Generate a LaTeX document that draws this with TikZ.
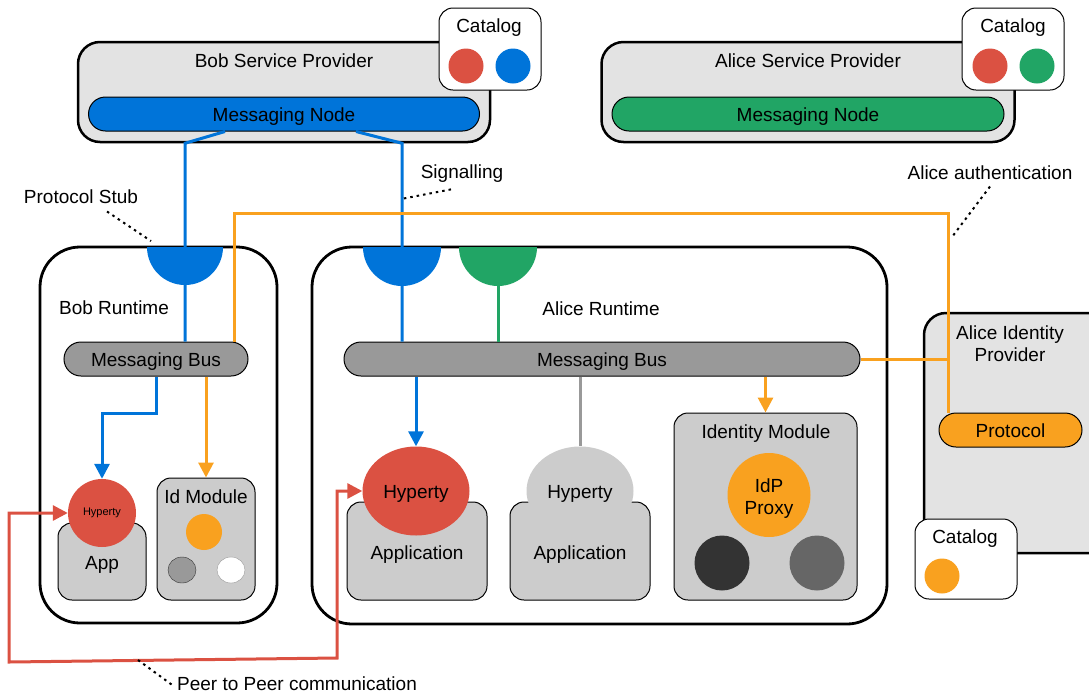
\documentclass[tikz,border=0pt]{standalone}
\usepackage{fontspec}
\setmainfont{Liberation Sans}
\usepackage{tikz}
\usetikzlibrary{arrows.meta}
\usetikzlibrary{shapes.geometric}
\definecolor{sigblue}{HTML}{0074D9}
\definecolor{siggreen}{HTML}{21A565}
\definecolor{hypred}{HTML}{DB5142}
\definecolor{idorange}{HTML}{F9A11F}
\definecolor{spgray}{HTML}{E3E3E3}
\definecolor{boxgray}{HTML}{CCCCCC}
\definecolor{busgray}{HTML}{999999}
\definecolor{darkdot}{HTML}{333333}
\definecolor{middot}{HTML}{666666}

\begin{document}
\begin{tikzpicture}[x=1pt,y=-1pt,font=\fontsize{19}{22}\selectfont,
    provider/.style={draw,line width=2.5pt,rounded corners=22pt,fill=spgray,inner sep=0},
    runtime/.style={draw,line width=2.8pt,rounded corners=40pt,inner sep=0},
    catalog/.style={draw,line width=1pt,rounded corners=14pt,fill=white,inner sep=0},
    mnode/.style={draw,line width=1pt,rounded corners=17pt,minimum height=34,inner sep=0,text height=16pt,text depth=2pt},
    appbox/.style={draw,line width=1pt,rounded corners=14pt,fill=boxgray,inner sep=0},
    dot/.style={circle,minimum size=35,inner sep=0},
    hyp/.style={ellipse,minimum width=107,minimum height=89,inner sep=0,text height=16pt,text depth=2pt},
    sig/.style={line width=3pt,sigblue},
    idline/.style={line width=3pt,idorange},
    callout/.style={line width=2pt,dash pattern=on 2.5pt off 4pt},
    >={Triangle[width=15pt,length=15pt]}]
    \useasboundingbox (0,0) rectangle (1089,694);
    % service providers
    \node[provider,minimum width=412,minimum height=100] (bobsp) at (284,92) {};
    \node (bobsptext) at (284,61) {Bob Service Provider};
    \node[mnode,fill=sigblue,minimum width=391] (bobmn) at (284,114) {Messaging Node};
    \node[catalog,minimum width=102,minimum height=82] (bobcat) at (490,49) {};
    \node (bobcattext) at (489,28) {Catalog};
    \node[dot,fill=hypred] (bobcat1) at (466,66) {};
    \node[dot,fill=sigblue] (bobcat2) at (513,66) {};
    \node[provider,minimum width=413,minimum height=100] (alicesp) at (808,92) {};
    \node (alicesptext) at (808,61) {Alice Service Provider};
    \node[mnode,fill=siggreen,minimum width=392] (alicemn) at (808,114) {Messaging Node};
    \node[catalog,minimum width=102,minimum height=82] (alicecat) at (1013,49) {};
    \node (alicecattext) at (1013,28) {Catalog};
    \node[dot,fill=hypred] (alicecat1) at (990,66) {};
    \node[dot,fill=siggreen] (alicecat2) at (1037,66) {};
    % runtimes
    \node[runtime,minimum width=237,minimum height=376] (bobrt) at (158.5,435) {};
    \node (bobrttext) at (114,308) {Bob Runtime};
    \node[mnode,fill=busgray,minimum width=184] (bobbus) at (156,359) {Messaging Bus};
    \node[appbox,minimum width=88,minimum height=77] (bobapp) at (102,561.5) {};
    \node (bobapptext) at (102,565) {App};
    \node[circle,fill=hypred,minimum size=68,inner sep=0,font=\fontsize{11}{13}\selectfont] (bobhyp) at (102,513) {Hyperty};
    \node[appbox,minimum width=98,minimum height=122] (bobid) at (206,539) {};
    \node (bobidtext) at (206,497) {Id Module};
    \node[dot,fill=idorange,minimum size=36] (bobiddot) at (204,532) {};
    \node[ellipse,draw=darkdot,fill=busgray,minimum width=28,minimum height=26,inner sep=0] (bobidgray) at (182,570) {};
    \node[ellipse,draw=busgray,fill=white,minimum width=28,minimum height=26,inner sep=0] (bobidwhite) at (231,570) {};
    \node[runtime,minimum width=575,minimum height=377] (alicert) at (599.5,435.5) {};
    \node (alicerttext) at (601,309) {Alice Runtime};
    \node[mnode,fill=busgray,minimum width=516] (alicebus) at (602,359) {Messaging Bus};
    \node[appbox,minimum width=140,minimum height=98] (app1) at (417,551) {};
    \node (app1text) at (417,555) {Application};
    \node[hyp,fill=hypred] (alicehyp) at (416,491) {Hyperty};
    \node[appbox,minimum width=140,minimum height=98] (app2) at (580,551) {};
    \node (app2text) at (580,555) {Application};
    \node[hyp,fill=boxgray] (grayhyp) at (580,491) {Hyperty};
    \node[appbox,minimum width=183,minimum height=187] (idmod) at (765.5,506.5) {};
    \node (idmodtext) at (766,434) {Identity Module};
    \node[ellipse,fill=idorange,minimum width=83,minimum height=84,inner sep=0,align=center] (idp) at (769,495) {};
    \node[align=center] (idptext) at (769,499) {IdP\\Proxy};
    \node[dot,fill=darkdot,minimum size=55] (iddark) at (722,563) {};
    \node[dot,fill=middot,minimum size=55] (idmid) at (817,563) {};
    % identity provider
    \node[provider,minimum width=190,minimum height=240] (idprov) at (1019,433) {};
    \node[align=center] (idprovtext) at (1010,344) {Alice Identity\\Provider};
    \node[mnode,fill=idorange,minimum width=143] (protocol) at (1010.5,430) {Protocol};
    \node[catalog,minimum width=102,minimum height=80] (idcat) at (966,559) {};
    \node (idcattext) at (965,539) {Catalog};
    \node[dot,fill=idorange] (idcatdot) at (942,576) {};
    % connectors
    \coordinate (bobstub) at (185,247);
    \coordinate (alicestubb) at (402,247);
    \coordinate (alicestubg) at (498,247);
    \coordinate (authcorner) at (948,213);
    \draw[sig] ([xshift=-59]bobmn.south) -- (bobstub |- bobsp.south) -- (bobstub |- bobbus.north);
    \draw[sig] ([xshift=72]bobmn.south) -- (alicestubb |- bobsp.south) -- (alicestubb |- alicebus.north);
    \draw[sig,siggreen] (alicestubg) -- (alicestubg |- alicebus.north);
    \draw[sig,->] (bobbus.south) -- ++(0,37) -| (bobhyp.north);
    \draw[idline,->] (bobbus.south -| bobid.north) -- (bobid.north);
    \draw[idline] ([xshift=78]bobbus.north) |- (authcorner) -- (authcorner |- protocol.north);
    \draw[idline] (alicebus.east) -- (alicebus.east -| authcorner);
    \draw[sig,->] (alicebus.south -| alicehyp.north) -- (alicehyp.north);
    \draw[line width=3pt,busgray] (alicebus.south -| grayhyp.north) -- (grayhyp.north);
    \draw[idline,->] (alicebus.south -| idmod.north) -- (idmod.north);
    \coordinate (p2pleft) at (9,662);
    \coordinate (p2pright) at (337,658);
    \draw[line width=3pt,hypred,<->] (bobhyp.west) -| (p2pleft) -- (p2pright) |- (alicehyp.west);
    % protocol stubs
    \fill[sigblue] (bobstub) ++(-38,0) arc[start angle=180,end angle=0,radius=38] -- cycle;
    \fill[sigblue] (alicestubb) ++(-39,0) arc[start angle=180,end angle=0,radius=39] -- cycle;
    \fill[siggreen] (alicestubg) ++(-39,0) arc[start angle=180,end angle=0,radius=39] -- cycle;
    % callouts
    \node (stubtext) at (81,197) {Protocol Stub};
    \coordinate (stubpt) at (151,241);
    \draw[callout] ([xshift=26,yshift=-4]stubtext.south) -- (stubpt);
    \node (sigtext) at (462,174) {Signalling};
    \coordinate (sigpt) at (401,199);
    \draw[callout] ([xshift=-11,yshift=-3]sigtext.south) -- (sigpt);
    \node (authtext) at (990,173) {Alice authentication};
    \coordinate (authpt) at (952,237);
    \draw[callout] ([yshift=-3]authtext.south) -- (authpt);
    \node (p2ptext) at (297,684) {Peer to Peer communication};
    \coordinate (p2ppt) at (138,660);
    \draw[callout] (p2ppt) -- ([yshift=-2]p2ptext.west);
\end{tikzpicture}
\end{document}
